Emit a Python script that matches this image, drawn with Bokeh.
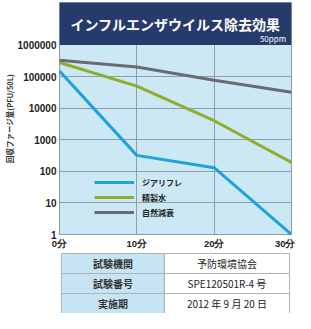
import math
from bokeh.plotting import figure
from bokeh.models import (Range1d, FixedTicker, NumeralTickFormatter, BoxAnnotation,
                          Label, ColumnDataSource)
from bokeh.layouts import column
from bokeh.core.properties import value
from bokeh.embed import file_html
from bokeh.resources import INLINE

# ---- data ----
minutes = [0, 10, 20, 30]
x_labels = ["0分", "10分", "20分", "30分"]
y_ticks = [1, 10, 100, 1000, 10000, 100000, 1000000]
series_names = ["ジアリフレ", "精製水", "自然減衰"]
zialifle = [150000, 320, 130, 1]
purified_water = [280000, 50000, 4000, 190]
natural_decay = [330000, 200000, 77000, 32000]
series_values = [zialifle, purified_water, natural_decay]
colors = ["#1ba3dd", "#8fac2b", "#686c72"]
title_text = "インフルエンザウイルス除去効果"
subtitle_text = "50ppm"
y_label = "回収ファージ量(PFU/50L)"
table_keys = ["試験機関", "試験番号", "実施期"]
table_values = ["予防環境協会", "SPE120501R-4 号", "2012 年 9 月 20 日"]

JP = "Noto Sans CJK JP"
TOP_LOG = 7.345
W = 295
BORDER_L, BORDER_R = 52, 4
FRAME_W = W - BORDER_L - BORDER_R

p = figure(width=W, height=252, x_range=Range1d(0, 30), y_range=Range1d(1, 10 ** TOP_LOG),
           y_axis_type="log", output_backend="svg", toolbar_location=None,
           min_border_left=BORDER_L, min_border_right=BORDER_R, min_border_top=2,
           min_border_bottom=18,
           background_fill_color="#cbe8f4", border_fill_color="white",
           outline_line_color="#8d9ba6", outline_line_width=1)

p.xaxis.ticker = FixedTicker(ticks=minutes)
p.xaxis.major_label_overrides = dict(zip(minutes, x_labels))
p.yaxis.ticker = FixedTicker(ticks=y_ticks)
p.yaxis.formatter = NumeralTickFormatter(format="0")
for ax in (p.xaxis, p.yaxis):
    ax.major_tick_line_color = None
    ax.minor_tick_line_color = None
    ax.major_tick_out = 0
    ax.major_tick_in = 0
    ax.minor_tick_out = 0
    ax.minor_tick_in = 0
    ax.axis_line_color = None
    ax.major_label_text_font_style = "bold"
    ax.major_label_text_color = "#222222"
    ax.major_label_standoff = 3
p.xaxis.major_label_text_font = "Liberation Sans"
p.xaxis.major_label_text_font_size = "9.5px"
p.xaxis.major_label_standoff = 3
p.yaxis.major_label_text_font = "Liberation Sans"
p.yaxis.major_label_text_font_size = "10px"
p.yaxis.axis_label = y_label
p.yaxis.axis_label_text_font = JP
p.yaxis.axis_label_text_font_size = "7.5px"
p.yaxis.axis_label_text_font_style = "bold"
p.yaxis.axis_label_text_color = "#333333"
p.yaxis.axis_label_standoff = 0
p.xgrid.ticker = FixedTicker(ticks=minutes)
p.ygrid.ticker = FixedTicker(ticks=y_ticks)
p.grid.grid_line_color = "#8e9fab"
p.grid.grid_line_width = 1
p.grid.grid_line_alpha = 1

for name, vals, col in zip(series_names, series_values, colors):
    src = ColumnDataSource(dict(x=minutes, y=vals))
    p.line("x", "y", source=src, line_color=col, line_width=3, legend_label=name)

band = BoxAnnotation(bottom=y_ticks[-1], fill_color="#263b6c", fill_alpha=1, line_color=None)
p.add_layout(band)

p.add_layout(Label(x=15, y=10 ** 6.67, text=title_text, text_align="center",
                   text_baseline="middle", text_color="white", text_font=JP,
                   text_font_size="14px", text_font_style="bold"))
p.add_layout(Label(x=29.3, y=10 ** 6.2, text=subtitle_text, text_align="right",
                   text_baseline="middle", text_color="white", text_font=JP,
                   text_font_size="8px"))

lg = p.legend[0]
lg.location = (35, 15)
lg.glyph_width = 40
lg.glyph_height = 14
lg.label_height = 14
lg.spacing = 1
lg.padding = 0
lg.margin = 0
lg.label_standoff = 8
lg.background_fill_alpha = 0
lg.border_line_color = None
lg.label_text_font = JP
lg.label_text_font_size = "8px"
lg.label_text_font_style = "bold"
lg.label_text_color = "#222222"

# ---- table (frame aligned with the chart's frame by the column layout) ----
TH = 61
t = figure(width=W, height=TH, x_range=Range1d(0, FRAME_W), y_range=Range1d(TH, 0),
           output_backend="svg", toolbar_location=None, x_axis_type=None, y_axis_type=None,
           min_border_left=BORDER_L, min_border_right=BORDER_R, min_border_top=0,
           min_border_bottom=0, outline_line_color=None, background_fill_color="white",
           border_fill_color="white")
t.grid.visible = False
col_left, col_mid, col_right = 2, 108, 237
row_h = 20
top0 = 1
n = len(table_keys)
tops = [top0 + i * row_h for i in range(n)]
bottoms = [tp + row_h for tp in tops]
t.quad(left=[col_left] * n, right=[col_mid] * n, top=tops, bottom=bottoms,
       fill_color="#c6e4f1", line_color="#a9b4bb", line_width=1)
t.quad(left=[col_mid] * n, right=[col_right] * n, top=tops, bottom=bottoms,
       fill_color="white", line_color="#a9b4bb", line_width=1)
mids = [tp + row_h / 2 for tp in tops]
t.text(x=[(col_left + col_mid) / 2] * n, y=mids, text=table_keys, text_align="center",
       text_baseline="middle", text_font=value(JP), text_font_size="10px",
       text_font_style="bold", text_color="#333333")
t.text(x=[(col_mid + col_right) / 2] * n, y=mids, text=table_values, text_align="center",
       text_baseline="middle", text_font=value(JP), text_font_size="10px",
       text_color="#222222")

layout = column(p, t, spacing=0)
open("out.html", "w").write(file_html(layout, INLINE))
